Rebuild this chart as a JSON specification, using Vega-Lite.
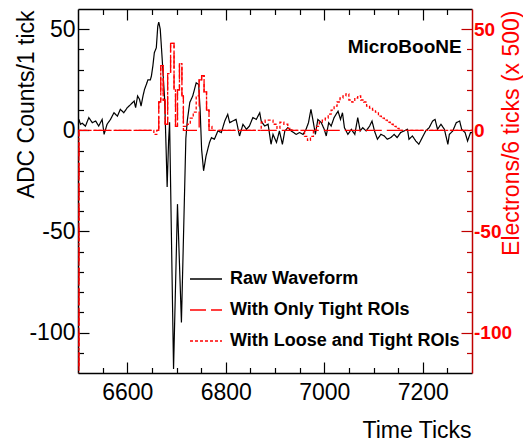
{
  "$schema": "https://vega.github.io/schema/vega-lite/v6.json",
  "width": 394,
  "height": 364,
  "autosize": {"type": "none"},
  "padding": {"left": 78, "top": 9, "right": 51, "bottom": 70},
  "background": "white",
  "config": {
    "view": {"stroke": null},
    "font": "Liberation Sans",
    "axis": {"grid": false, "labelFont": "Liberation Sans", "titleFont": "Liberation Sans", "labelFontSize": 23, "titleFontSize": 23, "titleFontWeight": "normal", "labelColor": "black", "titleColor": "black", "domainColor": "black", "tickColor": "black", "domainWidth": 1.5, "tickWidth": 1.2},
    "legend": {"orient": "none", "legendX": 111, "legendY": 253, "labelFont": "Liberation Sans", "labelFontSize": 18, "labelFontWeight": "bold", "labelColor": "black", "symbolType": "stroke", "symbolSize": 1024, "symbolStrokeWidth": 1.5, "labelOffset": 7, "rowPadding": 5, "labelLimit": 400, "padding": 0}
  },
  "datasets": {
    "raw": [
      {"t":6500,"v":2},{"t":6502,"v":5.4},{"t":6505,"v":3},{"t":6509,"v":3.5},{"t":6515,"v":2},{"t":6522,"v":6.3},{"t":6529,"v":3.8},{"t":6536,"v":4.6},{"t":6542,"v":2.1},{"t":6549,"v":5.4},{"t":6553,"v":-2},{"t":6559,"v":3},{"t":6566,"v":5.4},{"t":6573,"v":8.7},{"t":6580,"v":7},{"t":6586,"v":10.4},{"t":6593,"v":8.7},{"t":6600,"v":11.2},{"t":6607,"v":12.8},{"t":6614,"v":14.5},{"t":6617,"v":11.2},{"t":6621,"v":17},{"t":6625,"v":15.3},{"t":6628,"v":12},{"t":6632,"v":17},{"t":6635,"v":20.2},{"t":6640,"v":23.5},{"t":6642,"v":25},{"t":6647,"v":25},{"t":6649,"v":26.8},{"t":6652,"v":31.8},{"t":6655,"v":38.4},{"t":6659,"v":40.8},{"t":6662,"v":51.5},{"t":6664,"v":53.5},{"t":6667,"v":50},{"t":6671,"v":35},{"t":6676,"v":15},{"t":6679,"v":-10},{"t":6681,"v":-28},{"t":6684,"v":-5},{"t":6686,"v":4},{"t":6694,"v":-118},{"t":6702,"v":-36.5},{"t":6710,"v":-95},{"t":6719,"v":-4},{"t":6722,"v":5},{"t":6727,"v":13.8},{"t":6733,"v":17},{"t":6740,"v":23.5},{"t":6745,"v":22.7},{"t":6748,"v":10},{"t":6751,"v":-9.4},{"t":6755,"v":-20},{"t":6760,"v":-12.7},{"t":6767,"v":-6},{"t":6771,"v":-3.6},{"t":6777,"v":-4.4},{"t":6784,"v":-0.3},{"t":6791,"v":-1.1},{"t":6798,"v":4.6},{"t":6804,"v":7.9},{"t":6808,"v":3.8},{"t":6814,"v":4.6},{"t":6821,"v":5.4},{"t":6828,"v":-2.8},{"t":6835,"v":3},{"t":6842,"v":0.5},{"t":6848,"v":2.1},{"t":6855,"v":6.3},{"t":6862,"v":5.4},{"t":6869,"v":8.7},{"t":6872,"v":4.6},{"t":6879,"v":2.1},{"t":6886,"v":3},{"t":6892,"v":-6.9},{"t":6896,"v":-2},{"t":6903,"v":-6},{"t":6909,"v":-0.3},{"t":6915,"v":-6.9},{"t":6920,"v":-0.3},{"t":6926,"v":1.3},{"t":6933,"v":-0.3},{"t":6943,"v":-2},{"t":6950,"v":-1.1},{"t":6957,"v":-2},{"t":6963,"v":0.5},{"t":6968,"v":3.8},{"t":6973,"v":10.4},{"t":6978,"v":3.8},{"t":6982,"v":-2},{"t":6987,"v":5.4},{"t":6994,"v":3.8},{"t":7000,"v":0.5},{"t":7004,"v":-2.8},{"t":7009,"v":3.8},{"t":7014,"v":2.1},{"t":7020,"v":6.3},{"t":7028,"v":9.5},{"t":7033,"v":5.4},{"t":7037,"v":8.7},{"t":7041,"v":1.3},{"t":7048,"v":-2},{"t":7055,"v":0.5},{"t":7062,"v":-2},{"t":7068,"v":6.3},{"t":7073,"v":-0.3},{"t":7078,"v":1.3},{"t":7085,"v":-0.3},{"t":7092,"v":2.1},{"t":7097,"v":4.6},{"t":7102,"v":-0.3},{"t":7108,"v":-4.4},{"t":7115,"v":-2},{"t":7122,"v":-2.8},{"t":7128,"v":-4.4},{"t":7135,"v":-3.6},{"t":7142,"v":-2},{"t":7148,"v":-3.6},{"t":7155,"v":-1.1},{"t":7162,"v":-0.3},{"t":7169,"v":0.5},{"t":7172,"v":-4.4},{"t":7179,"v":-2.8},{"t":7186,"v":-5.3},{"t":7192,"v":-6.9},{"t":7199,"v":-3.6},{"t":7206,"v":-0.3},{"t":7213,"v":1.3},{"t":7220,"v":4.6},{"t":7225,"v":5.4},{"t":7230,"v":0.5},{"t":7237,"v":3},{"t":7244,"v":0.5},{"t":7251,"v":-6.9},{"t":7254,"v":-2},{"t":7261,"v":-0.3},{"t":7268,"v":3.8},{"t":7275,"v":4.6},{"t":7279,"v":0.5},{"t":7286,"v":-1.1},{"t":7291,"v":-5.3},{"t":7297,"v":-1.1},{"t":7300,"v":-1.1}
    ],
    "tight": [
      {"t":6500,"v":-200},{"t":6502,"v":0},{"t":6664,"v":14},{"t":6668,"v":32},{"t":6673,"v":15},{"t":6677,"v":3},{"t":6682,"v":28},{"t":6688,"v":43},{"t":6695,"v":20},{"t":6698,"v":2},{"t":6702,"v":20},{"t":6706,"v":33},{"t":6711,"v":17},{"t":6714,"v":0},{"t":6746,"v":25},{"t":6751,"v":27},{"t":6756,"v":19},{"t":6761,"v":10},{"t":6766,"v":0},{"t":7300,"v":0}
    ],
    "loose": [
      {"t":6500,"v":-200},{"t":6502,"v":0},{"t":6654,"v":-2},{"t":6660,"v":0},{"t":6664,"v":14},{"t":6668,"v":32},{"t":6673,"v":15},{"t":6677,"v":3},{"t":6682,"v":28},{"t":6688,"v":43},{"t":6695,"v":20},{"t":6698,"v":2},{"t":6702,"v":20},{"t":6706,"v":33},{"t":6711,"v":17},{"t":6714,"v":2},{"t":6722,"v":3},{"t":6728,"v":6},{"t":6734,"v":9},{"t":6740,"v":17},{"t":6746,"v":25},{"t":6751,"v":27},{"t":6756,"v":19},{"t":6761,"v":10},{"t":6766,"v":2},{"t":6772,"v":0},{"t":6872,"v":4},{"t":6880,"v":5},{"t":6888,"v":5},{"t":6896,"v":3},{"t":6904,"v":1},{"t":6910,"v":4},{"t":6918,"v":3},{"t":6926,"v":1},{"t":6934,"v":0},{"t":6960,"v":-3},{"t":6966,"v":-5},{"t":6972,"v":-3},{"t":6978,"v":0},{"t":6984,"v":2},{"t":6990,"v":4},{"t":6996,"v":5},{"t":7002,"v":6},{"t":7008,"v":8},{"t":7014,"v":10},{"t":7020,"v":12},{"t":7026,"v":14},{"t":7032,"v":16},{"t":7038,"v":17},{"t":7044,"v":18},{"t":7050,"v":15},{"t":7056,"v":14},{"t":7062,"v":16},{"t":7068,"v":17},{"t":7074,"v":15},{"t":7080,"v":14},{"t":7086,"v":12},{"t":7092,"v":11},{"t":7098,"v":10},{"t":7104,"v":9},{"t":7110,"v":7},{"t":7116,"v":6},{"t":7122,"v":5},{"t":7128,"v":4},{"t":7134,"v":3},{"t":7140,"v":2},{"t":7146,"v":1},{"t":7152,"v":0},{"t":7300,"v":0}
    ],
    "label": [{"t":7279,"v":38.4,"txt":"MicroBooNE"}]
  },
  "resolve": {"axis": {"x": "independent", "y": "independent"}},
  "layer": [
    {
      "data": {"name": "raw"},
      "mark": {"type": "line", "strokeWidth": 1.2, "clip": true},
      "encoding": {
        "x": {"field": "t", "type": "quantitative", "scale": {"domain": [6500, 7300], "nice": false, "zero": false},
              "axis": {"orient": "bottom", "values": [6600, 6800, 7000, 7200], "tickSize": -11, "labelPadding": 19, "labelFlush": false, "labelExpr": "'' + datum.value", "title": "Time Ticks", "titleX": 393, "titleY": 64, "titleAlign": "right", "titleBaseline": "alphabetic"}},
        "y": {"field": "v", "type": "quantitative", "scale": {"domain": [-120, 60], "nice": false, "zero": false},
              "axis": {"orient": "left", "values": [-100, -50, 0, 50], "tickSize": -11, "labelPadding": 14, "labelExpr": "'' + datum.value", "title": "ADC Counts/1 tick", "titleX": -45, "titleY": 1, "titleAngle": 270, "titleAlign": "right", "titleBaseline": "alphabetic"}},
        "color": {"datum": "Raw Waveform", "type": "nominal", "title": null, "scale": {"domain": ["Raw Waveform", "With Only Tight ROIs", "With Loose and Tight ROIs"], "range": ["#000000", "#ff0000", "#ff0000"]}},
        "strokeDash": {"datum": "Raw Waveform", "type": "nominal", "title": null, "scale": {"domain": ["Raw Waveform", "With Only Tight ROIs", "With Loose and Tight ROIs"], "range": [[1, 0], [16, 5], [3, 2]]}}
      }
    },
    {
      "data": {"name": "tight"},
      "mark": {"type": "line", "interpolate": "step-after", "strokeWidth": 1.3, "clip": true},
      "encoding": {
        "x": {"field": "t", "type": "quantitative", "scale": {"domain": [6500, 7300], "nice": false, "zero": false},
              "axis": {"orient": "bottom", "values": [6550, 6650, 6700, 6750, 6850, 6900, 6950, 7050, 7100, 7150, 7250], "tickSize": -5.5, "labels": false, "domain": false, "title": null}},
        "y": {"field": "v", "type": "quantitative", "scale": {"domain": [-120, 60], "nice": false, "zero": false},
              "axis": {"orient": "right", "values": [-100, -50, 0, 50], "tickSize": -11, "labelPadding": 12.5, "labelColor": "#ff0000", "labelFontWeight": "bold", "labelFontSize": 19, "labelExpr": "'' + datum.value", "domainColor": "#c00000", "tickColor": "#c00000", "title": "Electrons/6 ticks (x 500)", "titleColor": "#ff0000", "titleX": 46, "titleY": 1, "titleAngle": 270, "titleAlign": "right", "titleBaseline": "alphabetic"}},
        "color": {"datum": "With Only Tight ROIs", "type": "nominal", "title": null},
        "strokeDash": {"datum": "With Only Tight ROIs", "type": "nominal", "title": null}
      }
    },
    {
      "data": {"name": "loose"},
      "mark": {"type": "line", "interpolate": "step-after", "strokeWidth": 1.3, "clip": true},
      "encoding": {
        "x": {"field": "t", "type": "quantitative", "scale": {"domain": [6500, 7300], "nice": false, "zero": false},
              "axis": {"orient": "top", "values": [6600, 6800, 7000, 7200], "tickSize": -11, "labels": false, "title": null}},
        "y": {"field": "v", "type": "quantitative", "scale": {"domain": [-120, 60], "nice": false, "zero": false},
              "axis": {"orient": "left", "values": [-110, -90, -80, -70, -60, -40, -30, -20, -10, 10, 20, 30, 40], "tickSize": -5.5, "labels": false, "domain": false, "title": null}},
        "color": {"datum": "With Loose and Tight ROIs", "type": "nominal", "title": null},
        "strokeDash": {"datum": "With Loose and Tight ROIs", "type": "nominal", "title": null}
      }
    },
    {
      "data": {"name": "label"},
      "mark": {"type": "text", "align": "right", "baseline": "alphabetic", "font": "Liberation Sans", "fontSize": 19, "fontWeight": "bold", "color": "#000000"},
      "encoding": {
        "x": {"field": "t", "type": "quantitative", "scale": {"domain": [6500, 7300], "nice": false, "zero": false},
              "axis": {"orient": "top", "values": [6550, 6650, 6700, 6750, 6850, 6900, 6950, 7050, 7100, 7150, 7250], "tickSize": -5.5, "labels": false, "domain": false, "title": null}},
        "y": {"field": "v", "type": "quantitative", "scale": {"domain": [-120, 60], "nice": false, "zero": false},
              "axis": {"orient": "right", "values": [-110, -90, -80, -70, -60, -40, -30, -20, -10, 10, 20, 30, 40], "tickSize": -5.5, "labels": false, "domain": false, "tickColor": "#c00000", "title": null}},
        "text": {"field": "txt", "type": "nominal"}
      }
    }
  ]
}
